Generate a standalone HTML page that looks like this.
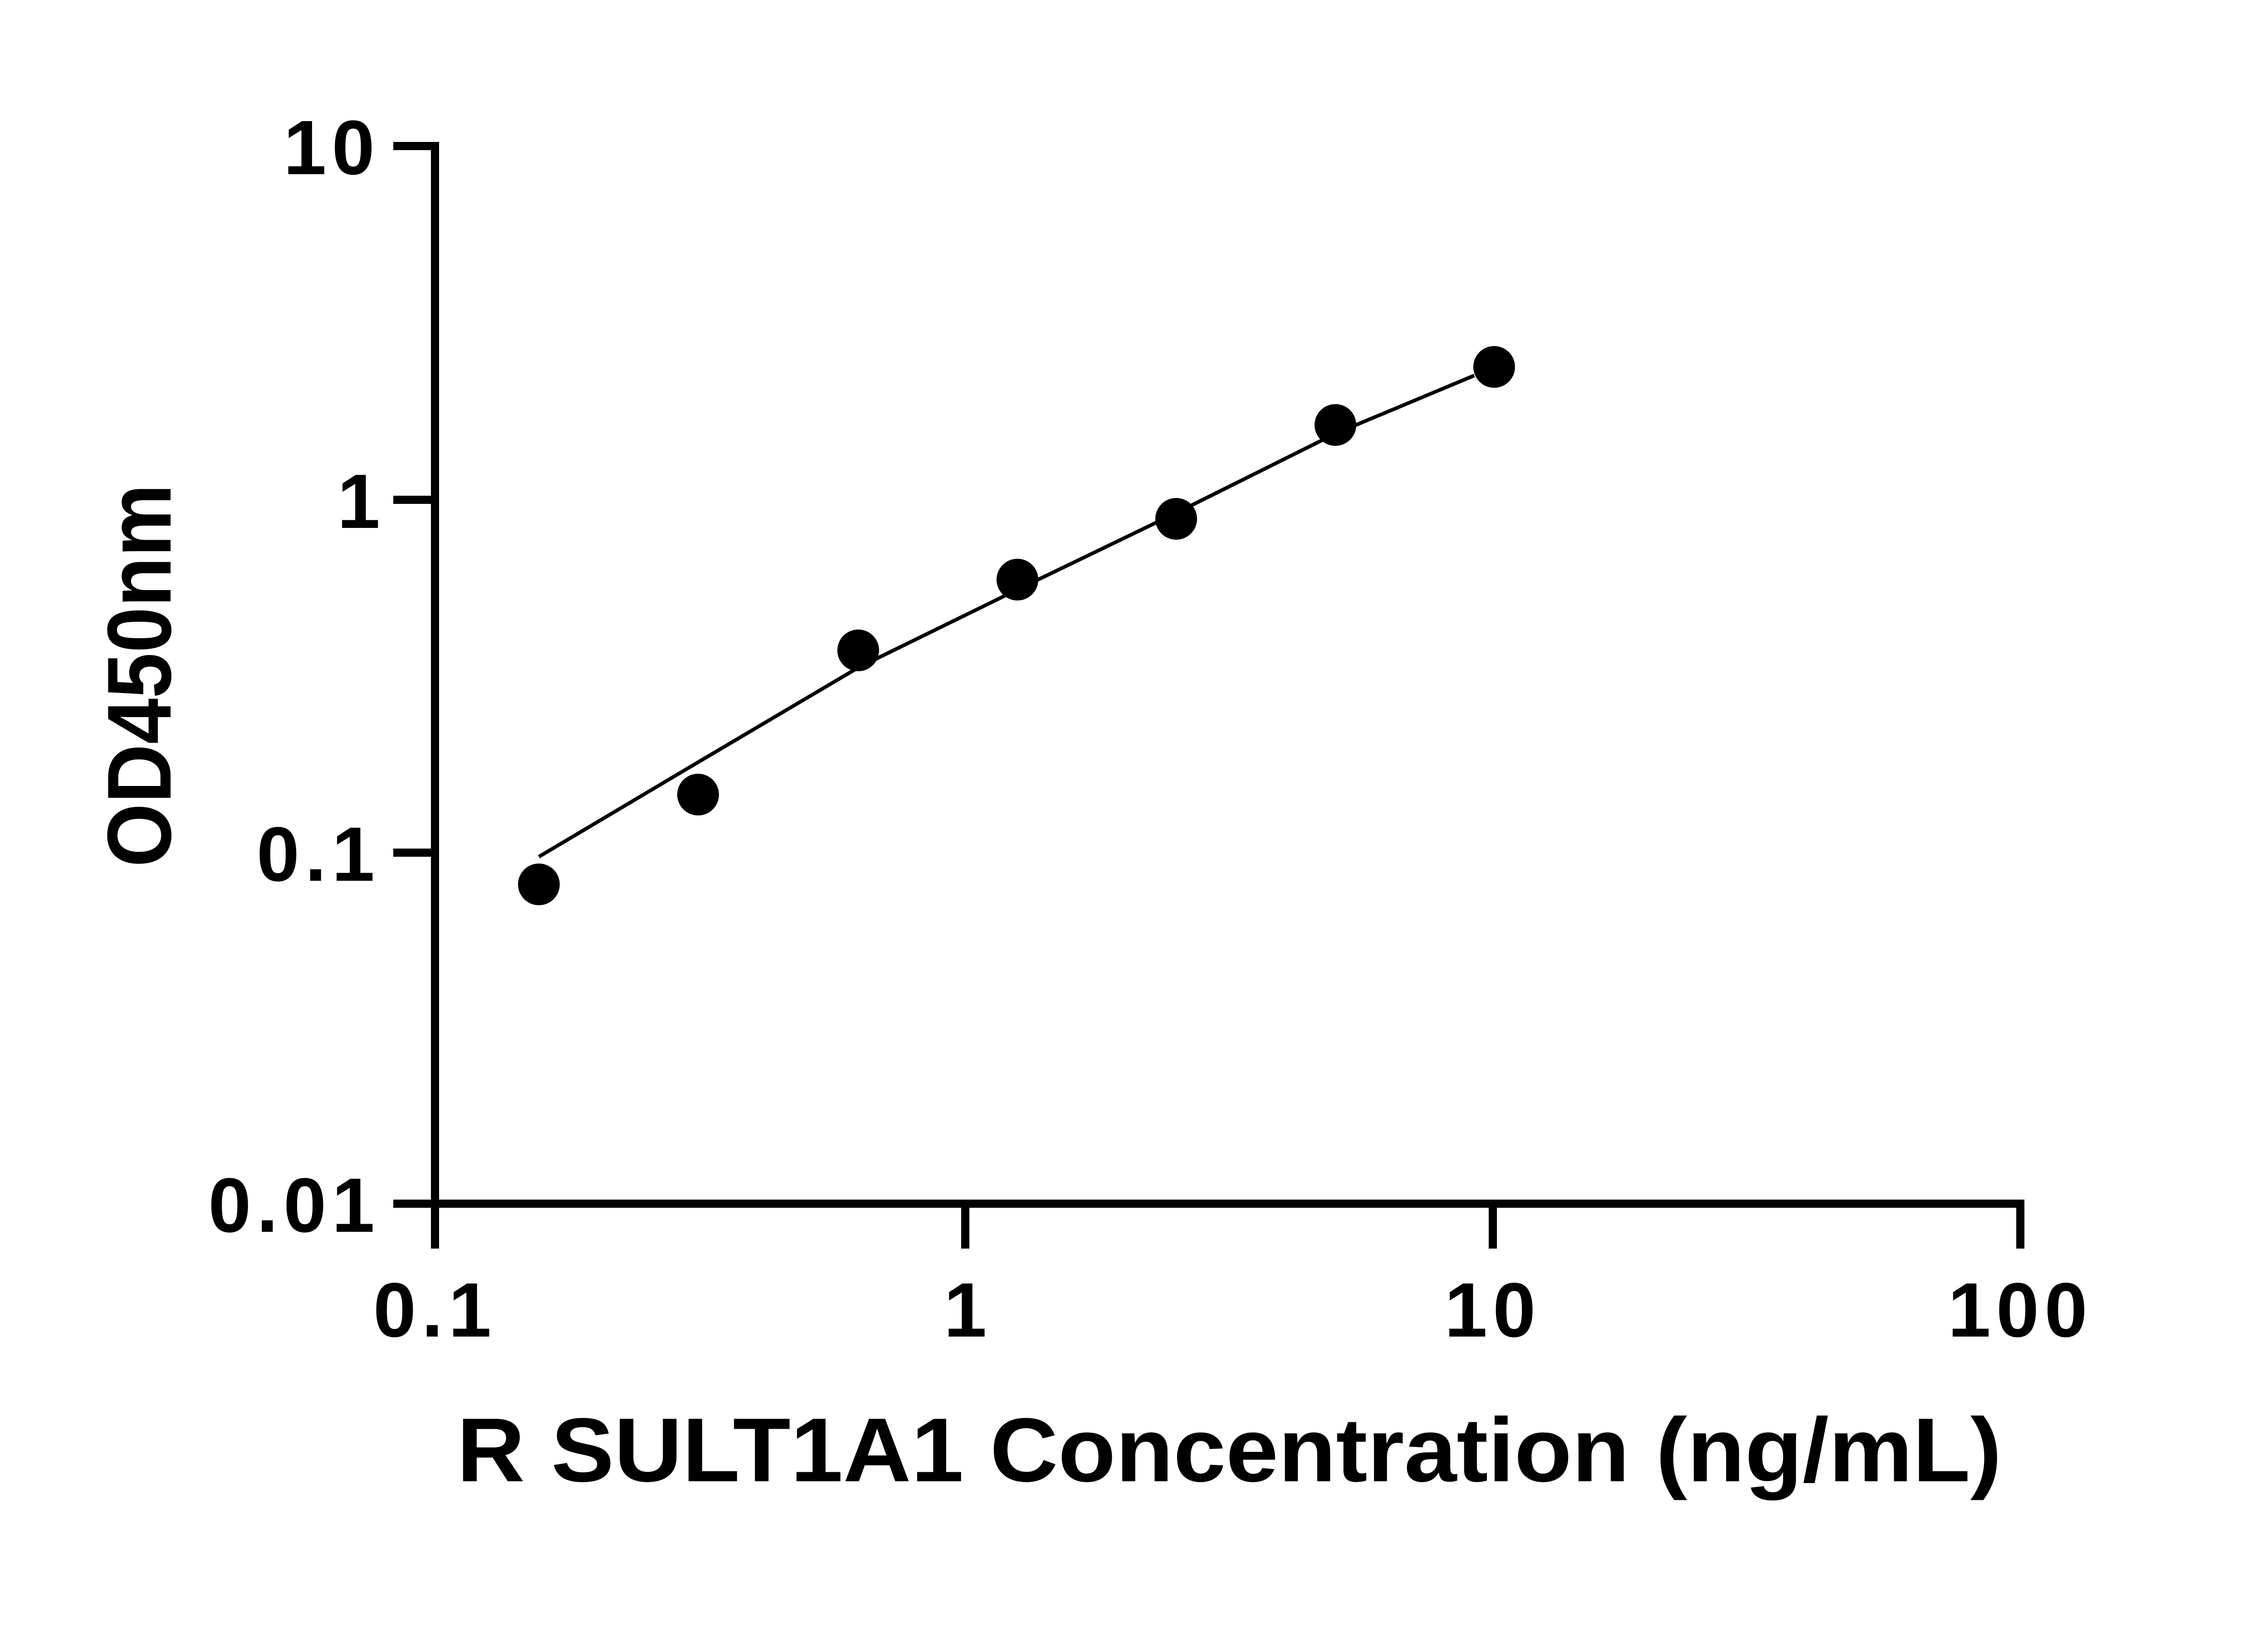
<!DOCTYPE html>
<html><head><style>html,body{margin:0;padding:0;background:#fff}</style></head>
<body>
<svg width="5142" height="3600" viewBox="0 0 5142 3600" xmlns="http://www.w3.org/2000/svg">
<g stroke="#000" stroke-width="18" fill="none" stroke-linecap="butt">
<line x1="959" y1="313" x2="959" y2="2663"/>
<line x1="950" y1="2654" x2="4454" y2="2654"/>
<line x1="867" y1="322" x2="967" y2="322"/>
<line x1="867" y1="1102" x2="967" y2="1102"/>
<line x1="867" y1="1880" x2="967" y2="1880"/>
<line x1="867" y1="2654" x2="967" y2="2654"/>
<line x1="959" y1="2654" x2="959" y2="2753"/>
<line x1="2128" y1="2654" x2="2128" y2="2753"/>
<line x1="3291" y1="2654" x2="3291" y2="2753"/>
<line x1="4454" y1="2645" x2="4454" y2="2753"/>
</g>
<polyline fill="none" stroke="#000" stroke-width="8" points="1188,1889 1540,1680 1892,1472 2243,1300 2593,1131 2944,956 3250,828"/>
<g fill="#000">
<circle cx="1188" cy="1950" r="46"/>
<circle cx="1539" cy="1752" r="46"/>
<circle cx="1892" cy="1434" r="46"/>
<circle cx="2243" cy="1278" r="46"/>
<circle cx="2593" cy="1144" r="46"/>
<circle cx="2944" cy="937" r="46"/>
<circle cx="3294" cy="809" r="46"/>
</g>
<g font-family="Liberation Sans, sans-serif" font-weight="bold" font-size="170" fill="#000">
<text x="838" y="384" text-anchor="end" letter-spacing="12">10</text>
<text x="838" y="1164" text-anchor="end">1</text>
<text x="838" y="1942" text-anchor="end" letter-spacing="12">0.1</text>
<text x="838" y="2716" text-anchor="end" letter-spacing="12">0.01</text>
<text x="959" y="2947" text-anchor="middle" letter-spacing="12">0.1</text>
<text x="2128" y="2947" text-anchor="middle">1</text>
<text x="3291" y="2947" text-anchor="middle" letter-spacing="12">10</text>
<text x="4454" y="2947" text-anchor="middle" letter-spacing="12">100</text>
<text x="1007" y="3266" font-size="200" textLength="3406" lengthAdjust="spacingAndGlyphs">R SULT1A1 Concentration (ng/mL)</text>
<text transform="translate(376,1912) rotate(-90)" font-size="200" textLength="845" lengthAdjust="spacingAndGlyphs">OD450nm</text>
</g>
</svg>
</body></html>
